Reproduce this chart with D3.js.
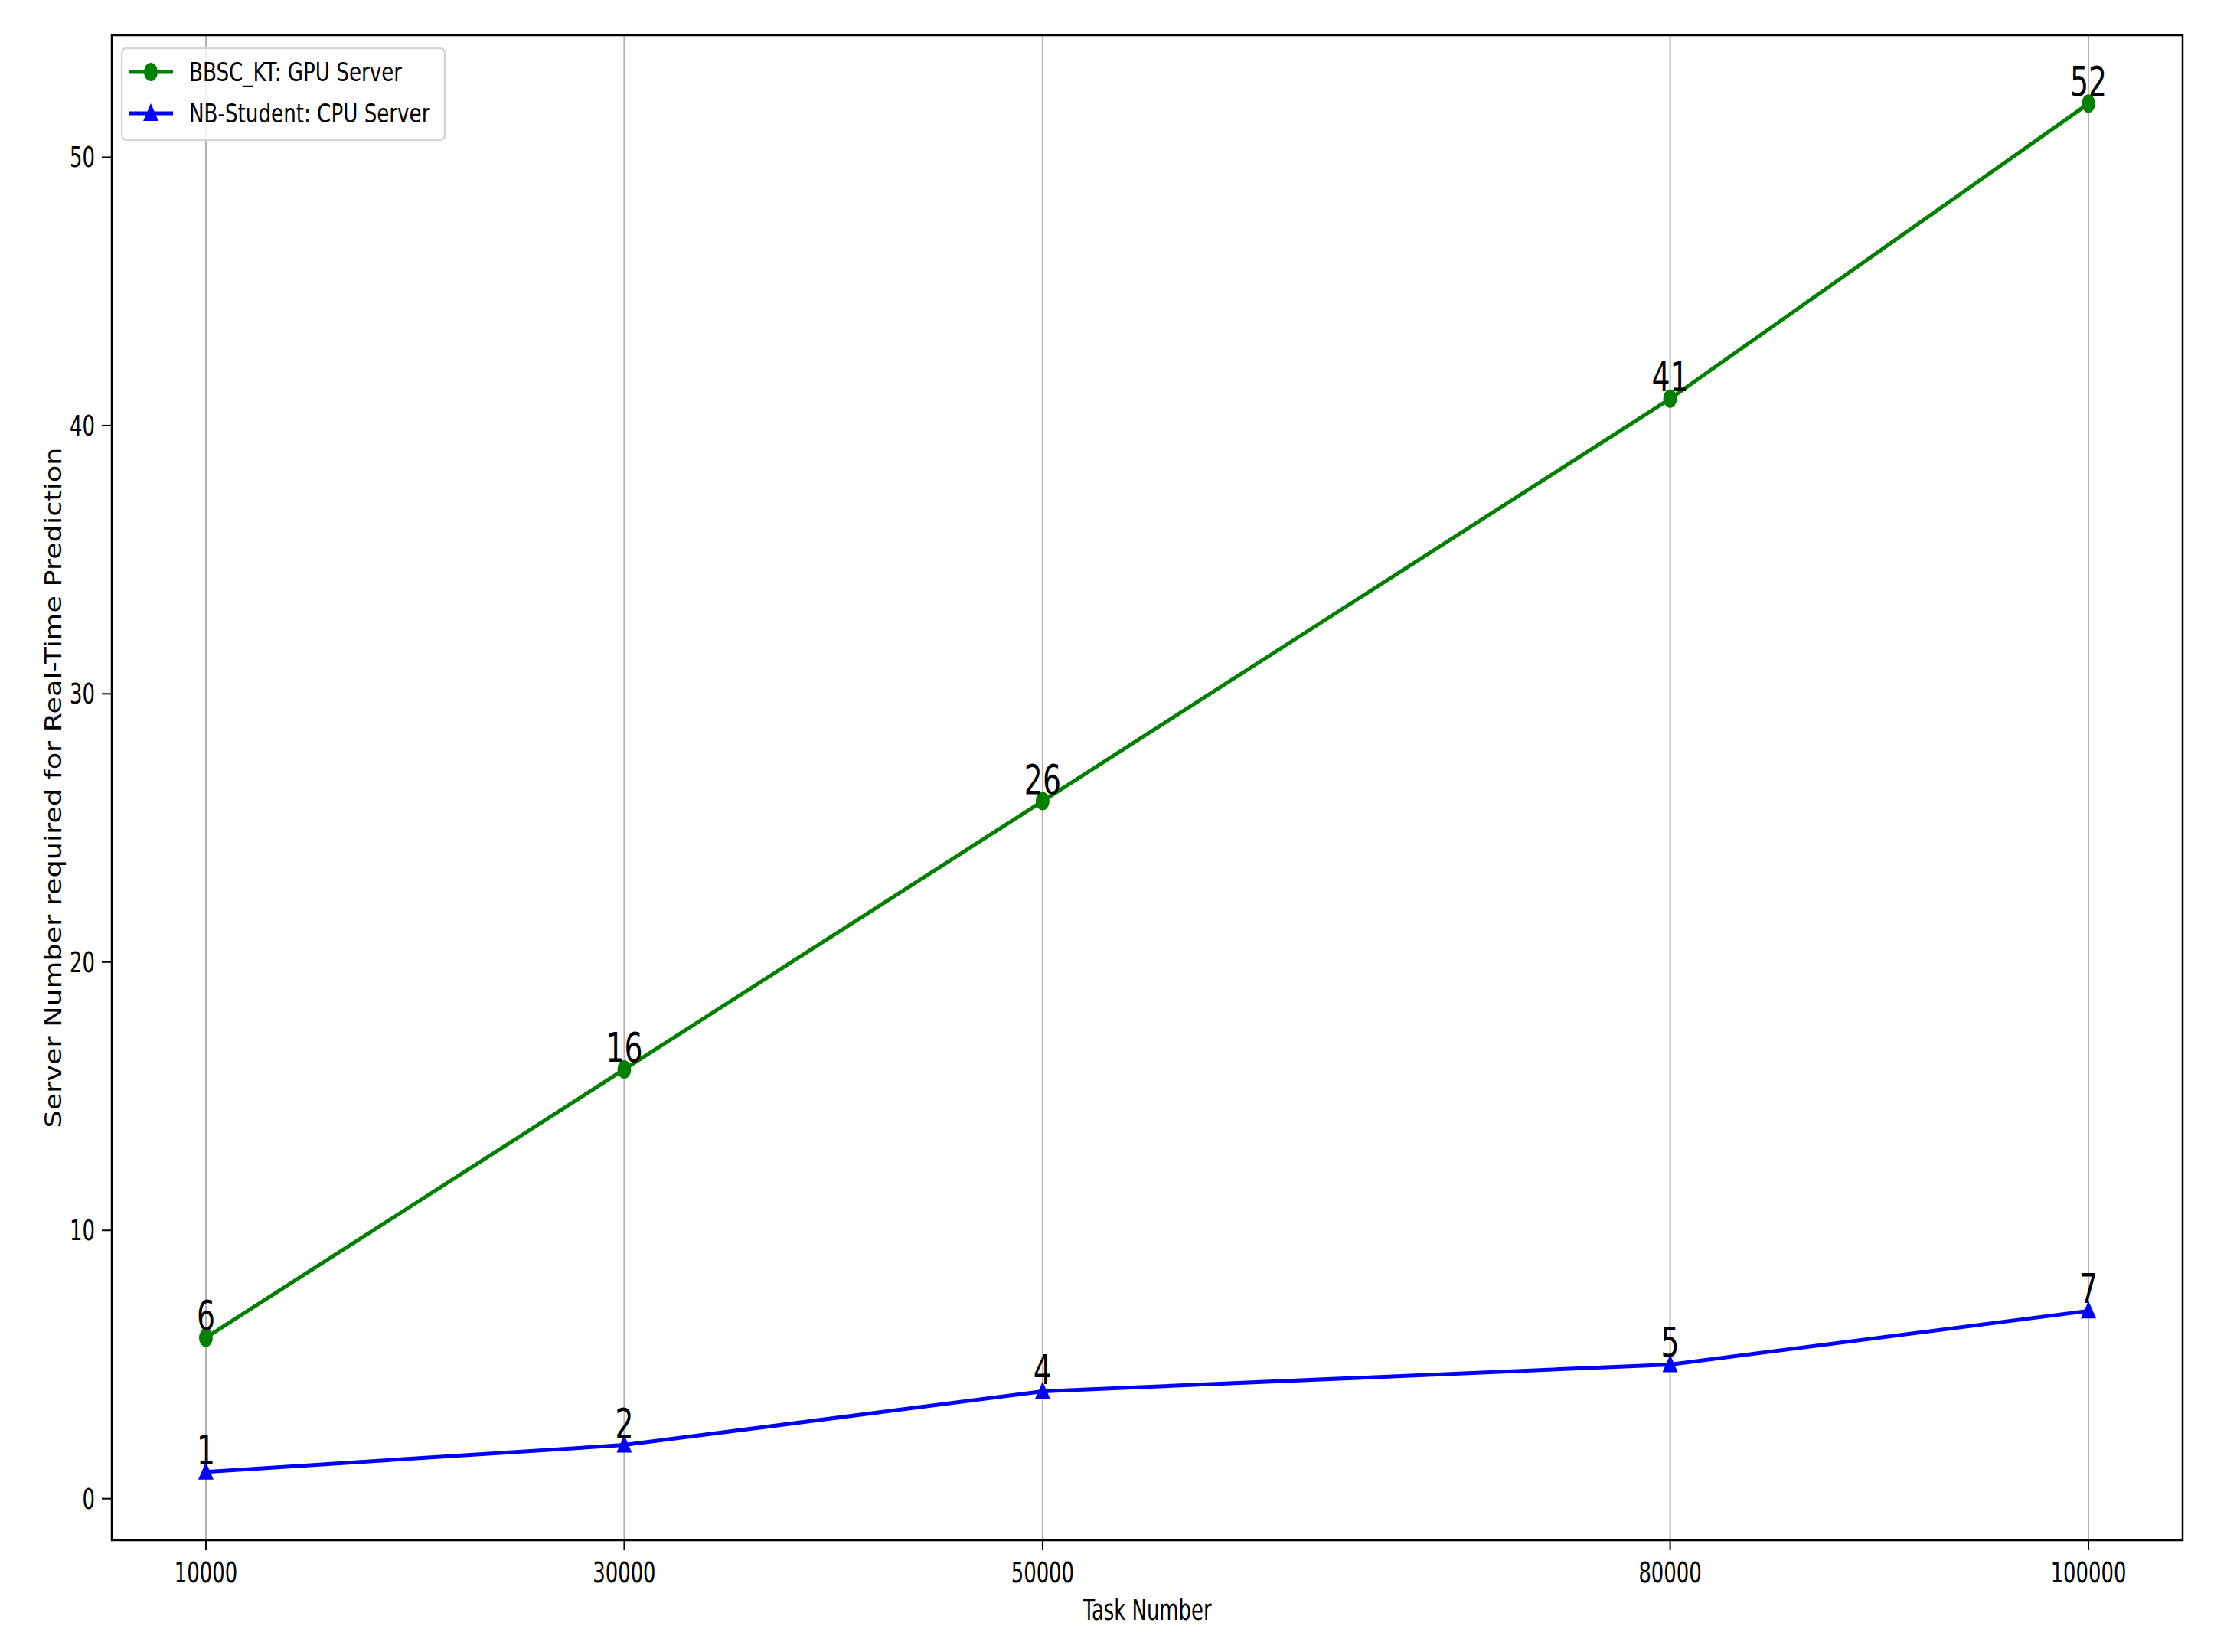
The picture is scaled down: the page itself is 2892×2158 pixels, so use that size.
<!DOCTYPE html>
<html><head><meta charset="utf-8">
<script src="https://cdn.jsdelivr.net/npm/d3@7"></script>
<style>body{margin:0;background:#fff}</style>
</head><body><svg id="c"></svg>
<script>
const tasks = [10000, 30000, 50000, 80000, 100000];
const gpuServers = [6, 16, 26, 41, 52];
const cpuServers = [1, 2, 4, 5, 7];
const yTicks = [0, 10, 20, 30, 40, 50];
const seriesNames = ["BBSC_KT: GPU Server", "NB-Student: CPU Server"];

const W = 2892, H = 2158;
const m = { left: 146, right: 2851, top: 46, bottom: 2012 };
const font = "DejaVu Sans";
const svg = d3.select("#c").attr("width", W).attr("height", H);

const x = d3.scaleLinear().domain([5500, 104500]).range([m.left, m.right]);
const y = d3.scaleLinear().domain([-1.55, 54.55]).range([m.bottom, m.top]);

// squished text helper
function label(g, tx, ty, str, size, sx, anchor, color) {
  return g.append("text")
    .attr("transform", `translate(${tx},${ty}) scale(${sx},1)`)
    .attr("text-anchor", anchor).attr("font-family", font)
    .attr("font-size", size).attr("fill", color || "#000").text(str);
}

// vertical grid
svg.append("g").selectAll("line").data(tasks).join("line")
  .attr("x1", d => x(d)).attr("x2", d => x(d))
  .attr("y1", m.top).attr("y2", m.bottom)
  .attr("stroke", "#b0b0b0").attr("stroke-width", 2);

// axes ticks
const ax = svg.append("g");
tasks.forEach(t => {
  ax.append("line").attr("x1", x(t)).attr("x2", x(t)).attr("y1", m.bottom).attr("y2", m.bottom + 13)
    .attr("stroke", "#000").attr("stroke-width", 2);
  label(ax, x(t), m.bottom + 55, t, 37, 0.7, "middle");
});
yTicks.forEach(t => {
  ax.append("line").attr("x1", m.left - 13).attr("x2", m.left).attr("y1", y(t)).attr("y2", y(t))
    .attr("stroke", "#000").attr("stroke-width", 2);
  label(ax, m.left - 22, y(t) + 13, t, 37, 0.7, "end");
});
label(ax, (m.left + m.right) / 2, 2116, "Task Number", 37, 0.7, "middle");
ax.append("text")
  .attr("transform", `translate(80,${(m.top + m.bottom) / 2}) rotate(-90) scale(1.22,1)`)
  .attr("text-anchor", "middle").attr("font-family", font).attr("font-size", 30)
  .text("Server Number required for Real-Time Prediction");

// series
const series = [
  { name: seriesNames[0], vals: gpuServers, color: "#008000", shape: "circle" },
  { name: seriesNames[1], vals: cpuServers, color: "#0000ff", shape: "tri" }
];
const line = d3.line().x(d => x(d[0])).y(d => y(d[1]));
function marker(g, cx, cy, s) {
  if (s.shape === "circle")
    g.append("ellipse").attr("cx", cx).attr("cy", cy).attr("rx", 9).attr("ry", 12).attr("fill", s.color);
  else
    g.append("path").attr("d", `M${cx},${cy - 13}L${cx + 10},${cy + 10}L${cx - 10},${cy + 10}Z`).attr("fill", s.color);
}
series.forEach(s => {
  const pts = tasks.map((t, i) => [t, s.vals[i]]);
  const g = svg.append("g");
  g.append("path").attr("d", line(pts)).attr("fill", "none")
    .attr("stroke", s.color).attr("stroke-width", 5);
  pts.forEach(p => {
    marker(g, x(p[0]), y(p[1]), s);
    label(g, x(p[0]), y(p[1]) - 10, p[1], 54, 0.7, "middle");
  });
});

// frame
svg.append("rect").attr("x", m.left).attr("y", m.top)
  .attr("width", m.right - m.left).attr("height", m.bottom - m.top)
  .attr("fill", "none").attr("stroke", "#000").attr("stroke-width", 2.5);

// legend
const lg = svg.append("g");
lg.append("rect").attr("x", 159).attr("y", 63).attr("width", 422).attr("height", 120)
  .attr("rx", 6).attr("fill", "#fff").attr("fill-opacity", 0.8)
  .attr("stroke", "#d5d5d5").attr("stroke-width", 2.5);
series.forEach((s, i) => {
  const cy = 94 + i * 54;
  lg.append("line").attr("x1", 168).attr("x2", 226).attr("y1", cy).attr("y2", cy)
    .attr("stroke", s.color).attr("stroke-width", 5);
  marker(lg, 197, cy, s);
  label(lg, 247, cy + 12, s.name, 34, 0.77, "start");
});
</script></body></html>
